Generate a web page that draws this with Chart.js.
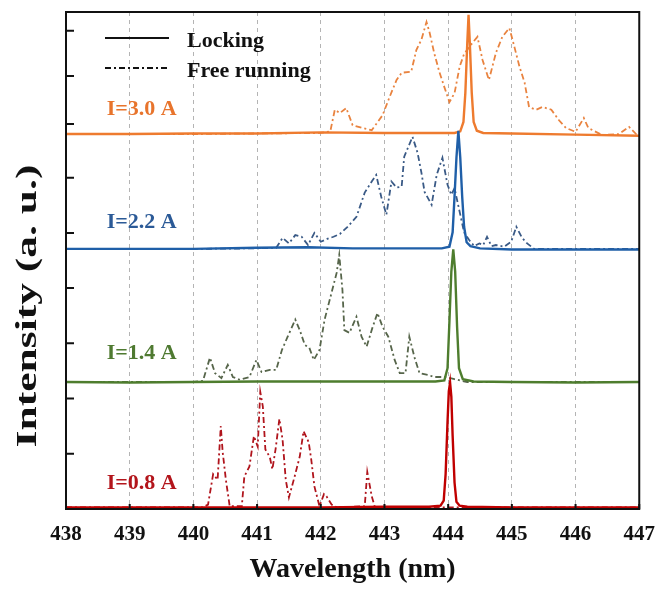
<!DOCTYPE html>
<html>
<head>
<meta charset="utf-8">
<script src="https://cdn.jsdelivr.net/npm/chart.js@4/dist/chart.umd.min.js"></script>
<style>
    html, body { margin: 0; padding: 0; background: #fff; }
    #wrap { width: 668px; height: 590px; }
</style>
</head>
<body>
<div id="wrap"><canvas id="spectra" width="668" height="590"></canvas></div>
<script>
// drive currents and the vertical offset of each stacked spectrum
const currents = ['I=0.8 A', 'I=1.4 A', 'I=2.2 A', 'I=3.0 A'];
const offsets = [0.03, 2.30, 4.71, 6.79];

// locking spectra (relative intensity)
const lock08X = [438, 439, 440, 441, 442, 443, 443.7, 443.88, 443.93, 443.96, 443.99, 444.01, 444.03, 444.05, 444.07, 444.1, 444.13, 444.18, 444.3, 445, 446, 447];
const lock08Y = [0, 0, 0, 0, 0, 0.01, 0.01, 0.03, 0.12, 0.6, 1.55, 2.1, 2.26, 2.0, 1.3, 0.45, 0.1, 0.03, 0.01, 0, 0, 0];
const lock14X = [438, 439, 440, 441, 442, 443, 443.8, 443.94, 443.99, 444.02, 444.05, 444.08, 444.11, 444.14, 444.17, 444.23, 444.4, 445, 446, 447];
const lock14Y = [0, -0.01, 0, 0.01, 0.01, 0.01, 0.01, 0.03, 0.25, 1.1, 2.0, 2.4, 2.0, 1.0, 0.25, 0.05, 0.01, 0, -0.01, 0];
const lock22X = [438, 439, 440, 441, 441.8, 442.5, 443.3, 443.9, 444.02, 444.07, 444.1, 444.13, 444.16, 444.19, 444.22, 444.25, 444.29, 444.35, 444.5, 445, 446, 447];
const lock22Y = [0, 0, 0, 0.02, 0.03, 0.01, 0.01, 0.01, 0.04, 0.3, 0.95, 1.65, 2.14, 1.65, 0.95, 0.4, 0.12, 0.05, 0.01, -0.01, -0.01, -0.01];
const lock30X = [438, 439, 440, 441, 442, 443, 443.8, 444.1, 444.19, 444.24, 444.27, 444.3, 444.32, 444.34, 444.37, 444.4, 444.45, 444.55, 445, 446, 447];
const lock30Y = [0, 0, 0.01, 0.01, 0.03, 0.02, 0.02, 0.02, 0.05, 0.22, 0.75, 1.65, 2.16, 1.65, 0.75, 0.22, 0.06, 0.02, 0.01, -0.01, -0.03];

// free running spectra (relative intensity)
const free08X = [438, 439, 440, 440.15, 440.23, 440.31, 440.38, 440.43, 440.46, 440.51, 440.57, 440.76, 440.8, 440.88, 440.95, 441.01, 441.05, 441.09, 441.13, 441.2, 441.24, 441.29, 441.35, 441.4, 441.45, 441.5, 441.59, 441.67, 441.73, 441.81, 441.85, 441.9, 441.98, 442.05, 442.09, 442.17, 442.25, 442.69, 442.73, 442.8, 442.85, 443, 444, 445, 446, 447];
const free08Y = [0, 0, 0, 0, 0.05, 0.6, 0.5, 1.47, 1.0, 0.5, 0.02, 0.02, 0.56, 0.74, 1.29, 1.1, 2.09, 1.83, 1.05, 0.91, 0.69, 1.05, 1.6, 1.23, 0.5, 0.18, 0.56, 0.92, 1.38, 1.18, 0.87, 0.38, 0.02, 0.24, 0.2, 0.05, 0, 0.02, 0.64, 0.2, 0, 0, 0, 0, 0, 0];
const free14X = [438, 439, 440, 440.15, 440.26, 440.34, 440.44, 440.54, 440.62, 440.73, 440.88, 440.99, 441.07, 441.2, 441.3, 441.39, 441.48, 441.6, 441.67, 441.75, 441.82, 441.89, 441.98, 442.06, 442.17, 442.25, 442.29, 442.34, 442.37, 442.45, 442.56, 442.64, 442.72, 442.81, 442.89, 442.97, 443.06, 443.16, 443.24, 443.33, 443.39, 443.47, 443.55, 443.68, 443.78, 443.97, 444.1, 444.3, 445, 446, 447];
const free14Y = [0, 0, 0, 0.02, 0.44, 0.16, 0.07, 0.31, 0.09, 0.04, 0.09, 0.4, 0.18, 0.22, 0.22, 0.58, 0.82, 1.13, 0.94, 0.67, 0.62, 0.4, 0.58, 1.13, 1.62, 1.98, 2.3, 1.67, 0.94, 0.89, 1.18, 0.82, 0.64, 0.98, 1.25, 1.0, 0.82, 0.4, 0.16, 0.16, 0.82, 0.45, 0.16, 0.13, 0.09, 0.09, 0.05, 0, 0, 0, 0];
const free22X = [438, 439, 440, 441, 441.3, 441.4, 441.5, 441.6, 441.7, 441.8, 441.9, 442.0, 442.1, 442.2, 442.3, 442.42, 442.56, 442.69, 442.8, 442.87, 442.95, 443.03, 443.11, 443.19, 443.27, 443.31, 443.44, 443.52, 443.58, 443.63, 443.74, 443.82, 443.91, 443.99, 444.05, 444.1, 444.25, 444.33, 444.41, 444.49, 444.55, 444.61, 444.68, 444.75, 444.88, 444.99, 445.07, 445.16, 445.24, 445.35, 446, 447];
const free22Y = [0, 0, 0, 0.01, 0.02, 0.2, 0.1, 0.25, 0.22, 0.07, 0.29, 0.13, 0.18, 0.22, 0.27, 0.4, 0.58, 1.02, 1.22, 1.34, 0.94, 0.62, 1.22, 1.11, 1.13, 1.67, 2.03, 1.74, 1.38, 1.03, 0.8, 1.34, 1.65, 1.16, 0.98, 1.1, 0.3, 0.16, 0.05, 0.1, 0.07, 0.22, 0.05, 0.07, 0.04, 0.13, 0.4, 0.2, 0.1, 0, 0, 0];
const free30X = [438, 439, 440, 441, 442, 442.15, 442.22, 442.3, 442.4, 442.5, 442.65, 442.8, 442.97, 443.08, 443.19, 443.27, 443.42, 443.5, 443.58, 443.66, 443.71, 443.78, 443.86, 443.94, 444.02, 444.1, 444.18, 444.25, 444.38, 444.46, 444.54, 444.64, 444.75, 444.85, 444.96, 445.01, 445.12, 445.2, 445.27, 445.38, 445.48, 445.62, 445.74, 445.85, 446.0, 446.13, 446.2, 446.42, 446.68, 446.84, 446.95, 447];
const free30Y = [0, 0, 0, 0.01, 0.02, 0.05, 0.44, 0.38, 0.47, 0.16, 0.11, 0.07, 0.34, 0.67, 0.98, 1.11, 1.13, 1.52, 1.71, 2.03, 1.83, 1.47, 1.13, 0.85, 0.58, 0.74, 1.22, 1.45, 1.65, 1.76, 1.34, 0.98, 1.47, 1.76, 1.92, 1.71, 1.22, 0.93, 0.49, 0.44, 0.49, 0.44, 0.25, 0.11, 0.04, 0.29, 0.11, -0.02, 0.0, 0.13, 0.0, -0.02];

// axis ticks
const xTicks = [438, 439, 440, 441, 442, 443, 444, 445, 446, 447];
const yTickMarks = [1, 2, 3, 4, 5, 6, 6.97, 7.84, 8.66];
const legendNames = ['Locking', 'Free running'];

const lockColors = ['#c00000', '#4e7d2e', '#1f5fa8', '#ee7b2f'];
const freeColors = ['#b0141c', '#56654a', '#3a5a86', '#e9833f'];
const labelColors = ['#b3151b', '#4f7a31', '#2b5a97', '#e8742c'];
const serif = "'Liberation Serif', 'Times New Roman', serif";
const dashDot = [6, 3, 2, 3];

const lockX = [lock08X, lock14X, lock22X, lock30X];
const lockY = [lock08Y, lock14Y, lock22Y, lock30Y];
const freeX = [free08X, free14X, free22X, free30X];
const freeY = [free08Y, free14Y, free22Y, free30Y];

function toPoints(xs, ys, off) {
    return xs.map((x, i) => ({x: x, y: ys[i] + off}));
}

let datasets = [];
// locking first so they end up on top
for (let i = 0; i < currents.length; i++) {
    datasets.push({
        label: currents[i] + ' ' + legendNames[0],
        data: toPoints(lockX[i], lockY[i], offsets[i]),
        borderColor: lockColors[i],
        borderWidth: 2.4
    });
}
for (let i = 0; i < currents.length; i++) {
    datasets.push({
        label: currents[i] + ' ' + legendNames[1],
        data: toPoints(freeX[i], freeY[i], offsets[i]),
        borderColor: freeColors[i],
        borderWidth: 1.8,
        borderDash: dashDot
    });
}

// frame, inward ticks, legend, current labels and the y title
const decorations = {
    id: 'decorations',
    afterDatasetsDraw(chart) {
        const {ctx, chartArea: a, scales: {x, y}} = chart;
        ctx.save();
        ctx.strokeStyle = '#111';
        ctx.lineWidth = 2;
        ctx.strokeRect(a.left, a.top, a.right - a.left, a.bottom - a.top);
        ctx.beginPath();
        xTicks.forEach((v) => {
            const px = x.getPixelForValue(v);
            ctx.moveTo(px, a.bottom);
            ctx.lineTo(px, a.bottom - 5);
        });
        yTickMarks.forEach((v) => {
            const py = y.getPixelForValue(v);
            ctx.moveTo(a.left, py);
            ctx.lineTo(a.left + 8, py);
        });
        ctx.stroke();

        // legend
        ctx.beginPath();
        ctx.moveTo(105, 38);
        ctx.lineTo(169, 38);
        ctx.stroke();
        ctx.setLineDash(dashDot);
        ctx.beginPath();
        ctx.moveTo(105, 68);
        ctx.lineTo(169, 68);
        ctx.stroke();
        ctx.setLineDash([]);
        ctx.fillStyle = '#111';
        ctx.font = 'bold 22px ' + serif;
        ctx.textAlign = 'left';
        ctx.textBaseline = 'alphabetic';
        ctx.fillText(legendNames[0], 187, 47);
        ctx.fillText(legendNames[1], 187, 77);

        // current labels, placed in data coordinates
        const labelPos = [0.36, 2.72, 5.09, 7.14];
        currents.forEach((c, i) => {
            ctx.fillStyle = labelColors[i];
            ctx.fillText(c, x.getPixelForValue(438.64), y.getPixelForValue(labelPos[i]));
        });

        // y title, stretched along its length like the original
        ctx.fillStyle = '#111';
        ctx.font = 'bold 30px ' + serif;
        ctx.translate(36, 306);
        ctx.rotate(-Math.PI / 2);
        ctx.scale(1.45, 1);
        ctx.textAlign = 'center';
        ctx.fillText('Intensity (a. u.)', 0, 0);
        ctx.restore();
    }
};

new Chart(document.getElementById('spectra'), {
    type: 'line',
    data: {datasets: datasets},
    options: {
        responsive: false,
        animation: false,
        layout: {padding: {left: 66, right: 28, top: 12, bottom: 0}},
        plugins: {legend: {display: false}, tooltip: {enabled: false}},
        elements: {point: {radius: 0}, line: {tension: 0}},
        scales: {
            x: {
                type: 'linear',
                min: 438,
                max: 447,
                afterFit: (s) => { s.height = 81; },
                afterBuildTicks: (s) => { s.ticks = xTicks.map((v) => ({value: v})); },
                ticks: {
                    padding: 13,
                    color: '#111',
                    font: {family: serif, weight: 'bold', size: 21}
                },
                grid: {
                    drawTicks: false,
                    lineWidth: 1,
                    color: (c) => (c.tick && (c.tick.value === 438 || c.tick.value === 447)) ? 'rgba(0,0,0,0)' : '#b4b4b4'
                },
                border: {display: false, dash: [4, 4]},
                title: {
                    display: true,
                    text: 'Wavelength (nm)',
                    color: '#111',
                    font: {family: serif, weight: 'bold', size: 28},
                    padding: {top: 0, bottom: 3}
                }
            },
            y: {display: false, min: 0, max: 9}
        }
    },
    plugins: [decorations]
});
</script>
</body>
</html>
